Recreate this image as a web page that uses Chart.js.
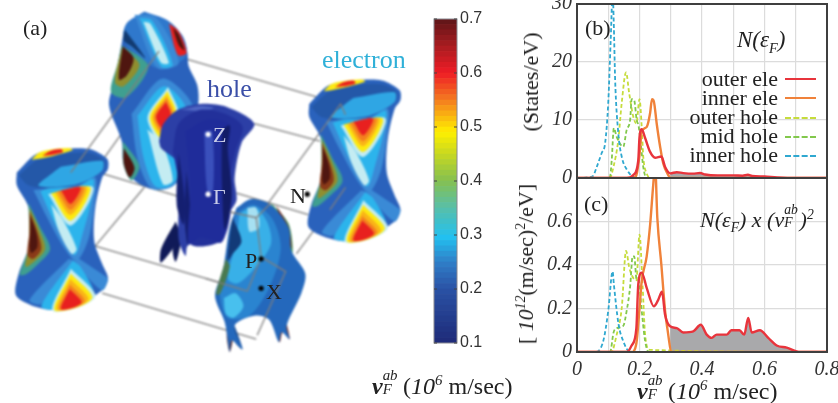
<!DOCTYPE html>
<html>
<head>
<meta charset="utf-8">
<script src="https://cdn.jsdelivr.net/npm/chart.js@4/dist/chart.umd.min.js"></script>
<style>
  html, body { margin: 0; padding: 0; background: #fff; overflow: hidden; }
  #page { position: relative; width: 838px; height: 403px; overflow: hidden; font-family: "Liberation Serif", serif; color: #222; }
  .box { position: absolute; }
  .box canvas { filter: blur(0.5px); }
  #surfBox canvas { filter: blur(1.1px); }
  .t { position: absolute; white-space: nowrap; line-height: 1; filter: blur(0.3px); }
  .t i { font-style: italic; }
  .t sup, .t sub { font-size: 62%; line-height: 0; }
  .rot { transform: translate(-50%, -50%) rotate(-90deg); }
  .leg { position: absolute; left: 785px; width: 31px; height: 0; }
  .ss { display: inline-block; position: relative; width: 0.85em; height: 1em; font-style: italic; }
  .ss span { position: absolute; left: 0; font-size: 62%; line-height: 1; }
  .ss .up { top: -0.16em; }
  .ss .dn { top: 0.82em; }
</style>
</head>
<body>
<div id="page">
  <div class="box" id="surfBox" style="left:0;top:0;width:430px;height:403px"><canvas id="surf"></canvas></div>
  <div class="box" id="barBox" style="left:420px;top:0;width:80px;height:360px"><canvas id="bar"></canvas></div>
  <div class="box" id="bBox" style="left:510px;top:0;width:328px;height:190px"><canvas id="chartB"></canvas></div>
  <div class="box" id="cBox" style="left:510px;top:170px;width:328px;height:233px"><canvas id="chartC"></canvas></div>

  <div class="t" style="left:23px;top:17px;font-size:22px">(a)</div>
  <div class="t" style="left:207px;top:76px;font-size:26px;color:#3b4fa8">hole</div>
  <div class="t" style="left:322px;top:47px;font-size:26px;color:#2fb0d8">electron</div>
  <div class="t" style="left:213px;top:124px;font-size:22px;color:#c8cce8">Z</div>
  <div class="t" style="left:213px;top:186px;font-size:22px;color:#c8cce8">Γ</div>
  <div class="t" style="left:290px;top:185px;font-size:22px">N</div>
  <div class="t" style="left:245px;top:250px;font-size:22px">P</div>
  <div class="t" style="left:266px;top:281px;font-size:22px">X</div>

  <div class="t" style="left:372px;top:370px;font-size:24px"><i><b>v</b></i><span class="ss"><span class="up">ab</span><span class="dn">F</span></span>(<i>10<sup>6</sup></i> m/sec)</div>

  <div class="t" style="left:585px;top:17px;font-size:22px">(b)</div>
  <div class="t" style="left:737px;top:28px;font-size:23px"><i>N(ε<sub>F</sub>)</i></div>
  <div class="t rot" style="left:531px;top:82px;font-size:22px">(States/eV)</div>
  <div class="t" style="right:60px;top:68px;font-size:22px">outer ele</div>
  <div class="t" style="right:60px;top:87px;font-size:22px">inner ele</div>
  <div class="t" style="right:60px;top:106px;font-size:22px">outer hole</div>
  <div class="t" style="right:60px;top:125px;font-size:22px">mid hole</div>
  <div class="t" style="right:60px;top:144px;font-size:22px">inner hole</div>
  <div class="leg" style="top:78px;border-top:2px solid #e8343c"></div>
  <div class="leg" style="top:97px;border-top:2px solid #f0823a"></div>
  <div class="leg" style="top:117px;border-top:2px dashed #c6dc3c"></div>
  <div class="leg" style="top:136px;border-top:2px dashed #82c84c"></div>
  <div class="leg" style="top:155px;border-top:2px dashed #2fa8d0"></div>

  <div class="t" style="left:584px;top:193px;font-size:22px">(c)</div>
  <div class="t" style="left:700px;top:205px;font-size:22px"><i>N(ε<sub>F</sub>) x (v</i><span class="ss" style="width:0.7em"><span class="up">ab</span><span class="dn">F</span></span><i>)<sup>2</sup></i></div>
  <div class="t rot" style="left:526px;top:264px;font-size:22px">[ <i>10<sup>12</sup></i>(m/sec)<sup>2</sup>/eV]</div>
  <div class="t" style="left:637px;top:375px;font-size:24px"><i><b>v</b></i><span class="ss"><span class="up">ab</span><span class="dn">F</span></span>(<i>10<sup>6</sup></i> m/sec)</div>
</div>

<script>
// panel (b) density of states
const bInnerHoleV = [0, 0.05, 0.063, 0.079, 0.09, 0.1, 0.108, 0.114, 0.118, 0.122, 0.132, 0.143, 0.16, 0.18, 0.2, 0.8];
const bInnerHoleN = [0, 0.3, 1.9, 4.3, 6, 13, 24, 32, 26, 17, 7.8, 3.7, 1.4, 0.2, 0, 0];
const bMidHoleV = [0, 0.1, 0.106, 0.111, 0.118, 0.127, 0.148, 0.159, 0.17, 0.175, 0.183, 0.191, 0.197, 0.204, 0.212, 0.223, 0.8];
const bMidHoleN = [0, 0, 0.3, 3, 8.6, 7.1, 5.4, 8.3, 10, 13.6, 13.4, 10, 9, 6, 1.9, 0, 0];
const bOuterHoleV = [0, 0.105, 0.117, 0.132, 0.143, 0.157, 0.167, 0.18, 0.19, 0.2, 0.207, 0.212, 0.223, 0.235, 0.8];
const bOuterHoleN = [0, 0, 2, 6.5, 12.9, 18.2, 14.6, 10.6, 9.4, 13.6, 8.9, 3.7, 0.8, 0, 0];
const bInnerEleV = [0, 0.18, 0.19, 0.2, 0.207, 0.223, 0.234, 0.24, 0.246, 0.255, 0.266, 0.276, 0.292, 0.3, 0.8];
const bInnerEleN = [0, 0, 0.5, 4, 8, 8.8, 11.2, 13.6, 13.2, 9.4, 5.4, 2.5, 0.5, 0, 0];
const bOuterEleV = [0, 0.16, 0.18, 0.196, 0.2, 0.207, 0.218, 0.234, 0.25, 0.27, 0.282, 0.298, 0.319, 0.34, 0.37, 0.394, 0.41, 0.45, 0.5, 0.53, 0.547, 0.56, 0.6, 0.64, 0.7, 0.8];
const bOuterEleN = [0, 0, 0.5, 3, 7, 8.4, 6.9, 4.5, 3.5, 3.7, 1.9, 0.8, 1, 0.85, 0.75, 0.85, 0.6, 0.45, 0.45, 0.4, 0.55, 0.35, 0.25, 0.1, 0, 0];

// panel (c) N x v^2
const cInnerHoleV = [0, 0.058, 0.084, 0.1, 0.114, 0.118, 0.133, 0.148, 0.17, 0.8];
const cInnerHoleN = [0, 0, 0.05, 0.19, 0.37, 0.31, 0.127, 0.05, 0, 0];
const cMidHoleV = [0, 0.106, 0.117, 0.127, 0.148, 0.159, 0.17, 0.178, 0.183, 0.191, 0.197, 0.207, 0.218, 0.23, 0.8];
const cMidHoleN = [0, 0, 0.09, 0.11, 0.12, 0.19, 0.3, 0.44, 0.44, 0.33, 0.33, 0.19, 0.05, 0, 0];
const cOuterHoleV = [0, 0.11, 0.127, 0.143, 0.157, 0.167, 0.18, 0.19, 0.2, 0.21, 0.218, 0.232, 0.8];
const cOuterHoleN = [0, 0, 0.08, 0.2, 0.465, 0.39, 0.34, 0.33, 0.54, 0.3, 0.08, 0.01, 0];
const cInnerEleV = [0, 0.175, 0.19, 0.2, 0.207, 0.223, 0.234, 0.244, 0.25, 0.257, 0.27, 0.282, 0.289, 0.303, 0.8];
const cInnerEleN = [0, 0, 0.04, 0.2, 0.325, 0.44, 0.585, 0.77, 0.86, 0.617, 0.4, 0.187, 0.11, 0, 0];
const cOuterEleV = [0, 0.16, 0.175, 0.19, 0.196, 0.207, 0.223, 0.246, 0.26, 0.272, 0.282, 0.298, 0.319, 0.34, 0.372, 0.396, 0.415, 0.431, 0.447, 0.479, 0.494, 0.52, 0.535, 0.548, 0.559, 0.585, 0.612, 0.639, 0.671, 0.714, 0.8];
const cOuterEleN = [0, 0, 0.03, 0.11, 0.31, 0.365, 0.295, 0.21, 0.24, 0.277, 0.17, 0.118, 0.11, 0.09, 0.095, 0.125, 0.08, 0.065, 0.08, 0.08, 0.1, 0.1, 0.08, 0.157, 0.09, 0.1, 0.065, 0.03, 0.02, 0, 0];

const bTickLabels = ["0", "10", "20", "30"];
const cTickLabels = ["0", "0.2", "0.4", "0.6", ""];
const xTickLabels = ["0", "", "0.2", "", "0.4", "", "0.6", "", "0.8"];

// colour bar
const barLevels = [
  0.10, 0.11, 0.12, 0.13, 0.14, 0.15, 0.16, 0.17, 0.18, 0.19,
  0.20, 0.21, 0.22, 0.23, 0.24, 0.25, 0.26, 0.27, 0.28, 0.29,
  0.30, 0.31, 0.32, 0.33, 0.34, 0.35, 0.36, 0.37, 0.38, 0.39,
  0.40, 0.41, 0.42, 0.43, 0.44, 0.45, 0.46, 0.47, 0.48, 0.49,
  0.50, 0.51, 0.52, 0.53, 0.54, 0.55, 0.56, 0.57, 0.58, 0.59,
  0.60, 0.61, 0.62, 0.63, 0.64, 0.65, 0.66, 0.67, 0.68, 0.69, 0.70
];
const barTickLabels = ["0.1", "0.2", "0.3", "0.4", "0.5", "0.6", "0.7"];
const barStops = [
  [0.10, "#1e2a78"], [0.20, "#2a52a5"], [0.25, "#2f80c8"], [0.295, "#22c0f0"],
  [0.35, "#58bfa8"], [0.40, "#85c050"], [0.45, "#c8d820"], [0.49, "#fff000"],
  [0.55, "#f47a20"], [0.60, "#ee1c25"], [0.65, "#a81c20"], [0.70, "#5c1518"]
];

// Fermi surface outlines, in picture units
const neckBody = [[13,172],[33,153],[60,148],[87,148],[105,158],[106,168],[100,177],[93,208],[92,242],[100,265],[106,280],[100,292],[77,305],[50,312],[27,307],[12,297],[15,275],[25,248],[25,208],[13,185],[13,172]];
const neckMouth = [[15,175],[33,160],[60,153],[87,152],[102,160],[100,170],[77,183],[47,188],[25,185],[15,175]];
const neckMouthLit = [[58,166],[100,160],[100,170],[77,183],[50,187],[35,185],[46,175],[58,166]];
const neckRimYellow = [[28,159],[35,152],[45,149],[66,147],[70,149],[50,155],[36,158],[28,159]];
const neckRimRed = [[39,155],[47,150],[58,148],[60,151],[48,154],[39,155]];
const neckBandUp = [[30,190],[47,188],[75,186],[93,177],[92,205],[86,240],[74,262],[62,250],[44,218],[30,190]];
const neckCyan = [[37,191],[47,188],[75,186],[91,179],[88,205],[80,235],[73,256],[66,250],[50,220],[37,191]];
const neckPale = [[48,204],[60,220],[74,250],[69,255],[56,232],[48,204]];
const neckTeal = [[25,203],[36,226],[47,250],[34,266],[22,276],[16,276],[25,248],[25,203]];
const neckGreen = [[26,208],[36,230],[42,250],[32,262],[22,268],[25,248],[26,208]];
const neckBrown = [[26,212],[34,232],[38,250],[30,260],[24,256],[26,232],[26,212]];
const neckDark = [[27,216],[33,234],[34,248],[28,254],[26,248],[27,232],[27,216]];
const neckRedTop = [[58,190],[78,187],[68,204],[58,190]];
const neckArmRight = [[71,256],[102,277],[106,281],[100,292],[76,268],[71,256]];
const neckArmLeft = [[66,260],[74,264],[38,306],[26,302],[66,260]];
const neckCyanLow = [[70,262],[38,308],[50,312],[77,305],[92,297],[78,268],[70,262]];
const neckRedLow = [[67,291],[58,311],[70,310],[79,304],[67,291]];

const towerBody = [[143,8],[167,17],[182,33],[187,50],[188,63],[197,83],[198,102],[190,140],[178,175],[170,183],[153,189],[133,180],[122,163],[120,140],[107,103],[113,77],[120,40],[125,20],[143,8]];
const towerMouth = [[143,8],[167,17],[182,33],[186,52],[172,63],[155,65],[140,55],[122,37],[125,20],[143,8]];
const towerShade = [[123,26],[144,55],[131,44],[122,37],[123,26]];
const towerStreak = [[133,11],[155,14],[178,60],[156,65],[133,11]];
const towerLit = [[138,14],[151,17],[172,62],[160,64],[138,14]];
const towerPale = [[142,18],[149,20],[168,60],[160,60],[142,18]];
const towerRimRed = [[168,20],[178,28],[186,50],[177,52],[168,20]];
const towerRimDark = [[172,24],[178,31],[184,47],[178,42],[172,24]];
const towerTeal = [[120,42],[147,63],[125,95],[109,90],[116,60],[120,42]];
const towerGreen = [[120,45],[138,62],[122,84],[113,80],[120,45]];
const towerDark = [[121,43],[132,55],[125,73],[117,77],[121,43]];
const towerBand = [[130,112],[162,76],[193,106],[170,134],[192,160],[172,186],[150,188],[136,157],[130,112]];
const towerCyan = [[136,114],[163,84],[186,108],[168,134],[186,160],[170,185],[154,186],[142,156],[136,114]];
const towerPaleLow = [[146,128],[160,140],[172,180],[162,184],[146,128]];
const towerRed = [[165,100],[155,115],[163,128],[170,113],[165,100]];
const towerTealLow = [[121,140],[138,165],[130,180],[122,165],[121,140]];
const towerDarkLow = [[122,147],[133,167],[128,177],[122,163],[122,147]];

const holeDome = [[158,140],[162,123],[177,108],[200,102],[227,105],[255,122],[242,142],[235,177],[237,200],[230,213],[222,243],[200,240],[187,247],[185,257],[178,240],[177,163],[160,147],[158,140]];
const holeMid = [[172,150],[178,122],[200,108],[225,112],[243,125],[236,150],[230,180],[232,205],[222,241],[190,245],[182,200],[172,150]];
const holeColumn = [[185,130],[207,118],[230,123],[228,147],[232,195],[222,241],[200,238],[188,245],[190,190],[185,130]];
const holeShadow = [[222,128],[230,124],[228,148],[232,195],[225,230],[222,180],[222,128]];
const holeStreak = [[204,130],[212,130],[213,190],[207,190],[204,130]];
const holeLit = [[180,108],[200,104],[214,106],[200,109],[180,108]];
const holeFinOne = [[175,222],[179,237],[160,264],[160,250],[175,222]];
const holeFinTwo = [[185,215],[181,240],[175,263],[172,250],[185,215]];
const holeRibbonA = [[178,152],[184,200],[183,225],[176,205],[178,152]];
const holeRibbonB = [[186,170],[190,215],[187,245],[184,215],[186,170]];

const frontBody = [[237,208],[252,199],[272,205],[290,228],[293,252],[307,275],[303,295],[288,328],[291,342],[283,335],[280,345],[270,322],[255,318],[235,328],[243,352],[232,343],[230,355],[225,325],[215,298],[223,272],[230,228],[237,208]];
const frontMid = [[236,214],[255,205],[274,220],[282,250],[270,290],[250,318],[228,320],[220,295],[228,265],[236,214]];
const frontLit = [[240,214],[255,207],[268,222],[272,245],[255,270],[238,285],[228,280],[236,245],[240,214]];
const frontPale = [[248,208],[257,208],[260,228],[250,232],[248,208]];
const frontPatch = [[224,300],[236,295],[244,308],[234,320],[226,316],[224,300]];
const frontStripRed = [[277,205],[290,227],[293,250],[287,232],[277,205]];
const frontStripGreen = [[272,203],[290,224],[294,254],[285,238],[272,203]];
const frontRibbon = [[233,218],[242,242],[233,255],[228,262],[230,238],[233,218]];
const frontFlapLeft = [[226,260],[230,268],[220,296],[216,296],[226,260]];
const frontFinRight = [[287,322],[291,342],[284,335],[281,345],[277,332],[287,322]];
const frontFinLeft = [[228,322],[233,340],[230,355],[227,340],[228,322]];
const frontFinBlue = [[235,328],[243,352],[236,346],[233,336],[235,328]];

// wireframe
const boxBack = [
  [[158,48],[343,102]], [[73,165],[257,220]], [[237,193],[310,215]], [[255,122],[322,140]],
  [[93,247],[250,293]], [[100,295],[257,342]], [[298,255],[348,187]], [[143,187],[93,247]],
  [[127,122],[100,160]], [[257,220],[322,131]]
];
const boxFront = [
  [[158,48],[68,172]], [[322,131],[343,102],[348,113]], [[230,212],[257,218],[272,203]],
  [[257,218],[262,258],[248,293]], [[262,258],[287,273],[258,338]], [[248,293],[205,280]],
  [[348,187],[332,210]]
];

const whiteDots = [[208,133],[208,194]];
const blackDots = [[309,194],[262,260],[262,290]];

function zip(xs, ys) { return xs.map((x, i) => ({ x: x, y: ys[i] })); }
function shift(pts, dx, dy) { return pts.map(p => [p[0] + dx, p[1] + dy]); }
function glow(core, anchor, stops) {
  return stops.map(s => [core.map(p => [anchor[0] + (p[0] - anchor[0]) * s[0], anchor[1] + (p[1] - anchor[1]) * s[0]]), s[1]]);
}

Chart.defaults.animation = false;
Chart.defaults.responsive = false;
Chart.defaults.font.family = "'Liberation Serif', serif";

// frame around a plot area
const framePlugin = {
  id: "frame",
  afterDraw(chart) {
    const a = chart.chartArea, ctx = chart.ctx;
    ctx.save();
    ctx.strokeStyle = "#3f3f3f";
    ctx.lineWidth = 2;
    ctx.strokeRect(a.left, a.top, a.width, a.height);
    ctx.restore();
  }
};

function sizeCanvas(id, boxId) {
  const box = document.getElementById(boxId);
  const c = document.getElementById(id);
  c.width = box.clientWidth;
  c.height = box.clientHeight;
  return c;
}

function curve(xs, ys, color, dashed) {
  return {
    data: zip(xs, ys),
    showLine: true,
    borderColor: color,
    borderWidth: dashed ? 1.8 : 2.4,
    borderDash: dashed ? [4, 2.5] : [],
    pointRadius: 0,
    cubicInterpolationMode: "monotone",
    fill: false
  };
}

function grayUnder(xs, ys) {
  const pts = zip(xs, ys).filter(p => p.x >= 0.298);
  return { data: pts, showLine: true, borderWidth: 0, pointRadius: 0, fill: "origin", backgroundColor: "#a9a9ab", cubicInterpolationMode: "monotone" };
}

function panel(id, boxId, datasets, yMax, yStep, yLabels, showX, pad) {
  return new Chart(sizeCanvas(id, boxId), {
    type: "scatter",
    data: { datasets: datasets },
    options: {
      layout: { padding: pad },
      plugins: { legend: { display: false }, tooltip: { enabled: false } },
      scales: {
        x: {
          min: 0, max: 0.8,
          afterFit: s => { s.height = showX ? 30 : 0; s.paddingLeft = 0; s.paddingRight = 0; },
          afterBuildTicks: s => { s.ticks = xTickLabels.map((l, i) => ({ value: i / 10 })); },
          grid: { color: "#dcdcdc", lineWidth: 1.2, drawTicks: false },
          border: { display: false },
          ticks: {
            display: showX, autoSkip: false, maxRotation: 0, padding: 6, color: "#333",
            font: { size: 20, style: "italic" },
            callback: (v, i) => xTickLabels[i]
          }
        },
        y: {
          min: 0, max: yMax,
          afterFit: s => { s.width = 67; s.paddingTop = 0; s.paddingBottom = 0; },
          grid: { color: "#dcdcdc", lineWidth: 1.2, drawTicks: false },
          border: { display: false },
          ticks: {
            stepSize: yStep, padding: 5, color: "#333",
            font: { size: 20, style: "italic" },
            callback: (v, i) => yLabels[i]
          }
        }
      }
    },
    plugins: [framePlugin]
  });
}

panel("chartB", "bBox", [
  curve(bOuterEleV, bOuterEleN, "#e8343c", false),
  curve(bInnerEleV, bInnerEleN, "#f0823a", false),
  curve(bInnerHoleV, bInnerHoleN, "#2fa8d0", true),
  curve(bMidHoleV, bMidHoleN, "#82c84c", true),
  curve(bOuterHoleV, bOuterHoleN, "#c6dc3c", true),
  grayUnder(bOuterEleV, bOuterEleN)
], 30, 10, bTickLabels, false, { left: 0, right: 11, top: 4, bottom: 12 });

panel("chartC", "cBox", [
  curve(cOuterEleV, cOuterEleN, "#e8343c", false),
  curve(cInnerEleV, cInnerEleN, "#f0823a", false),
  curve(cInnerHoleV, cInnerHoleN, "#2fa8d0", true),
  curve(cMidHoleV, cMidHoleN, "#82c84c", true),
  curve(cOuterHoleV, cOuterHoleN, "#c6dc3c", true),
  grayUnder(cOuterEleV, cOuterEleN)
], 0.8, 0.2, cTickLabels, true, { left: 0, right: 11, top: 8, bottom: 21 });

// colour bar built from the level list
function hexRgb(h) { return [1, 3, 5].map(i => parseInt(h.slice(i, i + 2), 16)); }
function barColor(v) {
  let k = 0;
  while (k < barStops.length - 2 && v > barStops[k + 1][0]) k++;
  const a = barStops[k], b = barStops[k + 1];
  const f = Math.min(1, Math.max(0, (v - a[0]) / (b[0] - a[0])));
  const ca = hexRgb(a[1]), cb = hexRgb(b[1]);
  return "rgb(" + ca.map((c, i) => Math.round(c + (cb[i] - c) * f)).join(",") + ")";
}

const barTicksPlugin = {
  id: "barTicks",
  afterDraw(chart) {
    const a = chart.chartArea, ctx = chart.ctx, y = chart.scales.y;
    ctx.save();
    ctx.strokeStyle = "#8a8a92";
    ctx.lineWidth = 1;
    ctx.strokeRect(a.left, a.top, a.width, a.height);
    ctx.strokeStyle = "#444";
    y.ticks.forEach(t => {
      const p = y.getPixelForValue(t.value);
      ctx.beginPath();
      ctx.moveTo(a.left, p); ctx.lineTo(a.left + 3, p);
      ctx.moveTo(a.right - 3, p); ctx.lineTo(a.right, p);
      ctx.stroke();
    });
    ctx.restore();
  }
};

new Chart(sizeCanvas("bar", "barBox"), {
  type: "bar",
  data: {
    labels: ["v"],
    datasets: barLevels.slice(0, -1).map((lo, i) => ({
      data: [[lo, barLevels[i + 1]]],
      backgroundColor: barColor((lo + barLevels[i + 1]) / 2),
      barPercentage: 1, categoryPercentage: 1, grouped: false
    }))
  },
  options: {
    layout: { padding: { left: 14, top: 19, right: 0, bottom: 17 } },
    plugins: { legend: { display: false }, tooltip: { enabled: false } },
    scales: {
      x: { display: false },
      y: {
        position: "right", min: 0.1, max: 0.7,
        afterFit: s => { s.width = 43; s.paddingTop = 0; s.paddingBottom = 0; },
        grid: { display: false, drawTicks: false }, border: { display: false },
        ticks: {
          stepSize: 0.1, padding: 3, color: "#333",
          font: { family: "'Liberation Sans', sans-serif", size: 16 },
          callback: (v, i) => barTickLabels[i]
        }
      }
    }
  },
  plugins: [barTicksPlugin]
});

// Fermi surfaces, listed back to front
const BLUE = "#2a62bc", MIDB = "#3a8ad6", CYAN = "#2cb4ec", PALE = "#c4ecf2", YEL = "#fdea10", AMB = "#f9b418", ORG = "#f4801e", RED = "#e8201f", DARK = "#4f1610", TEAL = "#3f9f90", GRN = "#8f8f30";
function neck(dx, dy) {
  const s = p => shift(p, dx, dy);
  return [].concat(
    [
      [s(neckBody), BLUE], [s(neckMouth), "#2458a8"], [s(neckMouthLit), "#2fa6e4"],
      [s(neckRimYellow), YEL], [s(neckRimRed), RED],
      [s(neckTeal), TEAL], [s(neckGreen), GRN], [s(neckBrown), "#8a3a18"], [s(neckDark), DARK],
      [s(neckBandUp), MIDB], [s(neckCyan), CYAN], [s(neckPale), PALE]
    ],
    glow(s(neckRedTop), [68 + dx, 187 + dy], [[2.3, PALE], [2.0, YEL], [1.65, AMB], [1.35, ORG], [1, RED]]),
    [[s(neckArmRight), MIDB], [s(neckArmLeft), MIDB], [s(neckCyanLow), CYAN]],
    glow(s(neckRedLow), [66 + dx, 310 + dy], [[2.1, PALE], [1.85, YEL], [1.55, AMB], [1.25, ORG], [1, RED]])
  );
}

const layers = [].concat(
  [
    [towerBody, BLUE], [towerTeal, TEAL], [towerGreen, GRN], [towerDark, DARK],
    [towerTealLow, TEAL], [towerDarkLow, DARK],
    [towerMouth, "#2f78cc"], [towerShade, "#123a70"], [towerStreak, MIDB], [towerLit, CYAN], [towerPale, PALE],
    [towerRimRed, RED], [towerRimDark, DARK],
    [towerBand, MIDB], [towerCyan, CYAN], [towerPaleLow, PALE]
  ],
  glow(towerRed, [163, 114], [[2.1, PALE], [1.8, YEL], [1.5, AMB], [1.25, ORG], [1, RED]]),
  neck(0, 0),
  neck(298, -70),
  [
    [holeFinOne, "#101a58"], [holeFinTwo, "#101a58"],
    [holeDome, "#2c3fa6"], [holeLit, "#5068c4"], [holeMid, "#22309a"], [holeRibbonA, "#141f70"], [holeRibbonB, "#141f70"],
    [holeColumn, "#1f2c9a"], [holeShadow, "#121c66"], [holeStreak, "#3a50bc"],
    [frontFinRight, "#7a2a1a"], [frontFinLeft, "#5a2a28"], [frontFinBlue, "#1c4a8c"],
    [frontStripGreen, "#4aa060"], [frontStripRed, "#7a2a1a"],
    [frontBody, "#2468bc"], [frontMid, "#2a84d0"], [frontLit, "#38b0e8"], [frontPale, "#a6e0f2"], [frontPatch, "#48c0ee"],
    [frontRibbon, "#123a78"], [frontFlapLeft, "#4a7a50"]
  ]
);

function segData(list, color) {
  return list.map(seg => ({
    data: seg.map(p => ({ x: p[0], y: p[1] })),
    showLine: true, borderColor: color, borderWidth: 1.3, pointRadius: 0, fill: false
  }));
}

const surfSets = [].concat(
  segData(boxBack, "#7e7e7e"),
  layers.map(l => ({
    data: l[0].map(p => ({ x: p[0], y: p[1] })),
    showLine: true, fill: "shape", backgroundColor: l[1], borderWidth: 0, pointRadius: 0, tension: 0.3
  })),
  segData(boxFront, "#7e7e7e"),
  [
    { data: whiteDots.map(p => ({ x: p[0], y: p[1] })), pointRadius: 2.6, pointBackgroundColor: "#fff", pointBorderWidth: 0 },
    { data: blackDots.map(p => ({ x: p[0], y: p[1] })), pointRadius: 2.6, pointBackgroundColor: "#000", pointBorderWidth: 0 }
  ]
).reverse();  // chart.js paints dataset 0 last

new Chart(sizeCanvas("surf", "surfBox"), {
  type: "scatter",
  data: { datasets: surfSets },
  options: {
    layout: { padding: 0 },
    plugins: { legend: { display: false }, tooltip: { enabled: false } },
    scales: {
      x: { display: false, min: 0, max: 430 },
      y: { display: false, min: 0, max: 403, reverse: true }
    }
  }
});
</script>
</body>
</html>
